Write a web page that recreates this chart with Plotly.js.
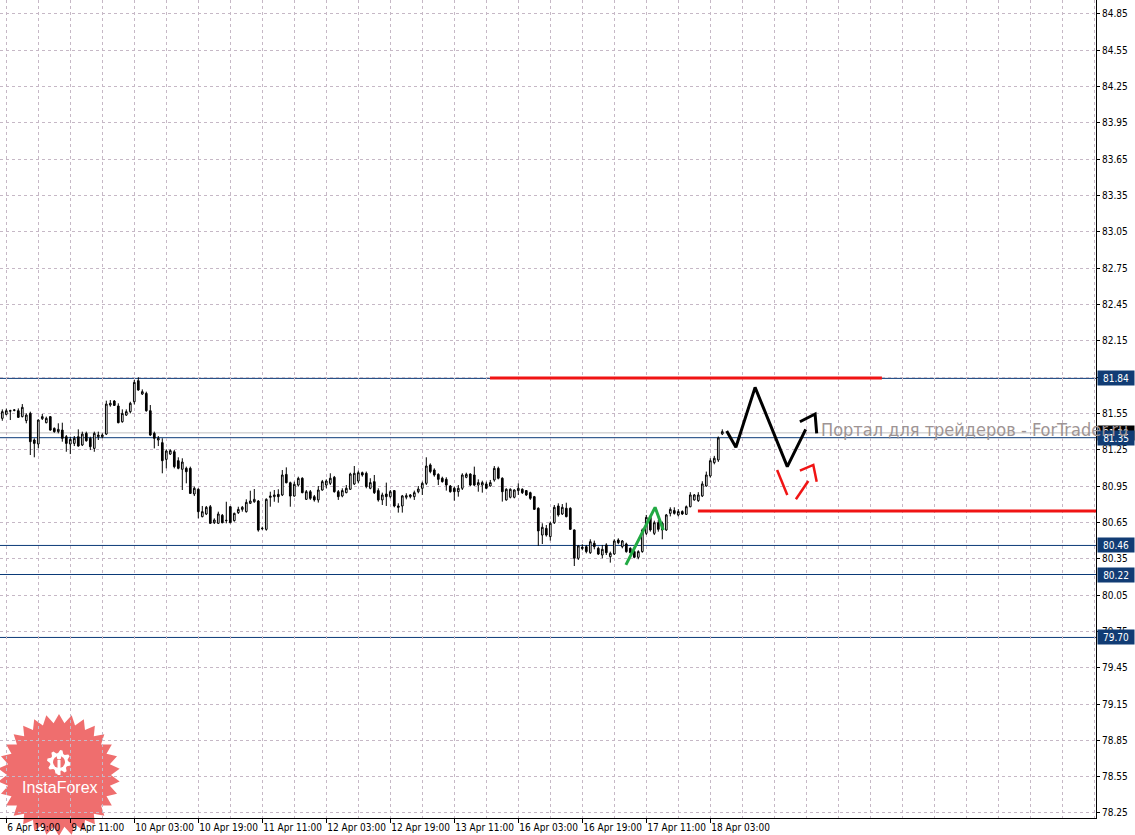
<!DOCTYPE html>
<html><head><meta charset="utf-8">
<script src="https://cdn.plot.ly/plotly-3.0.1.min.js"></script>
<style>html,body{margin:0;padding:0;background:#fff;}#chart{width:1135px;height:835px;}</style>
</head><body><div id="chart"></div>
<script>
// ---- data (bar index on x, price on y) ----
const tickBars = [1,17,33,49,65,81,97,113,129,145,161,177];
const tickLabels = ['6 Apr 19:00','9 Apr 11:00','10 Apr 03:00','10 Apr 19:00','11 Apr 11:00','12 Apr 03:00','12 Apr 19:00','13 Apr 11:00','16 Apr 03:00','16 Apr 19:00','17 Apr 11:00','18 Apr 03:00'];

const open = [
81.510,81.543,81.573,81.576,81.573,81.524,81.491,81.551,81.331,81.298,
81.507,81.474,81.524,81.427,81.400,81.413,81.358,81.298,81.303,81.358,
81.290,81.386,81.345,81.262,81.358,81.358,81.380,81.620,81.653,81.612,
81.482,81.537,81.565,81.647,81.821,81.711,81.716,81.573,81.386,81.331,
81.309,81.171,81.215,81.234,81.160,81.089,81.097,81.097,80.885,80.924,
80.698,80.720,80.780,80.648,80.643,80.709,80.665,80.780,80.665,80.731,
80.758,80.739,80.808,80.821,80.827,80.599,80.593,80.857,80.863,80.882,
80.877,81.047,80.978,80.868,80.959,
81.015,80.841,80.904,80.863,80.836,80.918,80.959,80.973,81.023,80.904,
80.869,80.896,80.924,80.968,80.992,81.061,81.056,80.932,80.987,80.913,
80.836,80.885,80.863,80.913,80.786,80.786,80.858,80.863,80.863,80.904,
80.932,80.973,81.125,81.083,81.047,81.015,81.006,80.951,80.932,80.904,
80.932,81.023,81.050,81.042,80.959,80.959,80.968,80.951,81.001,81.097,
81.015,80.836,80.858,80.858,80.913,80.924,80.913,80.896,80.863,80.767,
80.546,80.601,80.533,80.648,80.786,80.720,80.767,80.767,80.588,80.354,
80.445,80.450,80.400,80.478,80.436,80.381,80.464,80.367,80.390,80.505,
80.450,80.472,80.436,80.409,80.362,80.409,80.560,80.692,80.560,80.648,
80.643,80.588,80.725,80.748,80.712,80.740,80.717,80.780,80.836,80.830,
80.869,80.951,81.034,81.144,81.166,81.381];

const high = [
81.584,81.590,81.581,81.584,81.592,81.628,81.551,81.565,81.345,81.501,
81.546,81.524,81.529,81.435,81.469,81.474,81.372,81.358,81.364,81.419,
81.400,81.400,81.358,81.400,81.400,81.386,81.656,81.661,81.661,81.634,
81.584,81.584,81.647,81.827,81.849,81.749,81.730,81.620,81.400,81.364,
81.345,81.254,81.254,81.248,81.188,81.180,81.111,81.111,80.946,80.932,
80.786,80.786,80.794,80.684,80.739,80.720,80.821,80.786,80.731,80.780,
80.786,80.841,80.912,80.926,80.835,80.615,80.849,80.904,80.918,80.924,
81.083,81.105,80.987,80.987,81.028,
81.023,80.918,80.918,80.877,80.951,81.001,81.006,81.056,81.034,80.918,
80.932,80.959,81.061,81.116,81.078,81.070,81.070,81.015,81.042,80.932,
80.896,80.979,80.918,80.918,80.808,80.877,80.891,80.885,80.913,80.951,
80.987,81.188,81.138,81.097,81.056,81.028,81.023,80.959,80.946,80.959,
81.056,81.061,81.056,81.111,81.006,80.995,80.987,81.001,81.116,81.111,
81.023,80.932,80.932,80.924,80.973,80.932,80.918,80.904,80.869,80.775,
80.643,80.629,80.657,80.794,80.808,80.802,80.813,80.775,80.593,80.464,
80.470,80.464,80.511,80.500,80.450,80.464,80.478,80.409,80.511,80.519,
80.505,80.483,80.445,80.420,80.420,80.600,80.712,80.712,80.665,80.670,
80.657,80.720,80.775,80.775,80.760,80.750,80.790,80.900,80.885,80.900,
80.990,81.070,81.180,81.200,81.360,81.419];

const low = [
81.490,81.535,81.496,81.568,81.513,81.518,81.469,81.207,81.188,81.262,
81.496,81.469,81.408,81.391,81.386,81.317,81.234,81.215,81.281,81.276,
81.281,81.317,81.248,81.234,81.331,81.345,81.372,81.606,81.612,81.469,
81.474,81.529,81.551,81.625,81.738,81.703,81.565,81.364,81.262,81.281,
81.056,81.097,81.207,81.097,81.089,80.918,80.973,80.885,80.868,80.684,
80.692,80.711,80.637,80.637,80.637,80.643,80.643,80.643,80.657,80.720,
80.739,80.731,80.802,80.813,80.574,80.587,80.582,80.780,80.821,80.813,
80.868,80.973,80.780,80.863,80.946,
80.891,80.836,80.836,80.822,80.814,80.913,80.932,80.959,80.896,80.836,
80.858,80.891,80.918,80.959,80.973,81.028,80.932,80.924,80.885,80.822,
80.794,80.786,80.849,80.775,80.731,80.731,80.841,80.849,80.836,80.891,
80.877,80.959,81.056,81.028,80.959,80.979,80.913,80.896,80.830,80.863,
80.918,81.015,80.951,80.951,80.904,80.896,80.924,80.946,80.987,81.006,
80.822,80.830,80.849,80.849,80.877,80.885,80.869,80.836,80.753,80.456,
80.472,80.533,80.500,80.637,80.698,80.712,80.692,80.588,80.290,80.340,
80.420,80.395,80.390,80.428,80.381,80.354,80.381,80.318,80.381,80.470,
80.436,80.400,80.395,80.354,80.346,80.400,80.546,80.574,80.546,80.574,
80.511,80.580,80.700,80.715,80.700,80.712,80.712,80.775,80.830,80.820,
80.860,80.945,81.020,81.130,81.150,81.372];

const close = [
81.565,81.573,81.570,81.579,81.518,81.601,81.537,81.317,81.303,81.496,
81.524,81.510,81.413,81.400,81.419,81.345,81.303,81.336,81.345,81.281,
81.380,81.325,81.276,81.386,81.372,81.372,81.628,81.634,81.617,81.474,
81.551,81.565,81.634,81.807,81.744,81.730,81.573,81.372,81.345,81.345,
81.160,81.240,81.243,81.111,81.097,81.149,81.069,80.890,80.932,80.739,
80.739,80.775,80.643,80.670,80.720,80.648,80.667,80.648,80.725,80.758,
80.775,80.816,80.827,80.841,80.587,80.601,80.841,80.868,80.877,80.863,
81.042,80.978,80.868,80.965,81.014,
80.896,80.904,80.849,80.836,80.918,80.987,80.992,81.015,80.904,80.863,
80.913,80.932,81.050,81.056,81.061,81.042,80.946,80.979,80.896,80.836,
80.877,80.863,80.904,80.786,80.775,80.869,80.871,80.877,80.896,80.926,
80.973,81.116,81.070,81.042,81.006,80.987,80.959,80.904,80.904,80.932,
81.042,81.047,80.959,80.959,80.979,80.979,80.932,80.979,81.097,81.015,
80.904,80.924,80.924,80.918,80.932,80.896,80.877,80.849,80.758,80.580,
80.610,80.546,80.643,80.775,80.712,80.775,80.698,80.593,80.354,80.456,
80.436,80.409,80.491,80.450,80.389,80.428,80.400,80.395,80.497,80.483,
80.497,80.409,80.400,80.362,80.409,80.588,80.692,80.588,80.648,80.593,
80.588,80.712,80.758,80.725,80.740,80.720,80.780,80.877,80.877,80.877,
80.968,81.042,81.160,81.180,81.348,81.400];

const levelPrices = [81.84, 81.35, 80.46, 80.22, 79.70];
const levelLabels = ['81.84','81.35','80.46','80.22','79.70'];
const bidPrice = 81.39, bidLabel = '81.39';

// hand-drawn analysis lines (bar index, price)
const redTopX = [121.9, 219.9],  redTopY = [81.843, 81.843];
const redLowX = [173.9, 280],    redLowY = [80.745, 80.745];
const zigzagX = [181.1, 183.4, 188.2, 196.25, 200.85];
const zigzagY = [81.405, 81.271, 81.766, 81.111, 81.419];
const hookX = [199.4, 203.2, 203.6];
const hookY = [81.482, 81.546, 81.386];
const redAX = [193.7, 196.25], redAY = [81.083, 80.877];
const redBX = [198.4, 201.5],  redBY = [80.841, 80.992];
const redCX = [199.4, 202.75, 203.6], redCY = [81.078, 81.125, 80.987];
const greenX = [155.9, 163.2, 165.25], greenY = [80.299, 80.775, 80.588];

const watermark = 'Портал для трейдеров - ForTrader.ru';
const logoText = 'InstaForex';

// ---- build ----
const idx = open.map((_, i) => i);
const FONT = 'DejaVu Sans Condensed, DejaVu Sans, sans-serif';
const GRID = '#c6b8c6';
const FS = 10;

function line(x, y, color, w) {
  return {type:'scatter', mode:'lines', x:x, y:y, line:{color:color, width:w}, hoverinfo:'skip', showlegend:false};
}

const traces = [
  {type:'candlestick', x:idx, open:open, high:high, low:low, close:close,
   increasing:{line:{color:'#000', width:1}, fillcolor:'#ffffff'},
   decreasing:{line:{color:'#000', width:1}, fillcolor:'#000000'},
   whiskerwidth:0, hoverinfo:'skip', showlegend:false},
  line(redTopX, redTopY, '#f01414', 3),
  line(redLowX, redLowY, '#f01414', 3),
  line(greenX, greenY, '#22aa44', 3),
  line(zigzagX, zigzagY, '#000000', 3),
  line(hookX, hookY, '#000000', 3),
  line(redAX, redAY, '#f01414', 2.5),
  line(redBX, redBY, '#f01414', 2.5),
  line(redCX, redCY, '#f01414', 2.5)
];

// pixel helpers for decorative logo (plot area 1096 x 818)
const PW = 1096, PH = 818;
const px = x => (x / PW).toFixed(5);
const py = y => (1 - y / PH).toFixed(5);
const path = pts => 'M' + pts.map(p => px(p[0]) + ',' + py(p[1])).join(' L') + ' Z';

const star = [];
{ const N = 30, cx = 59, cy = 775, R = 61, r = 52;
  for (let k = 0; k < 2 * N; k++) {
    const a = Math.PI * k / N - Math.PI / 2, rad = (k % 2) ? r : R;
    star.push([cx + rad * Math.cos(a), cy + rad * Math.sin(a)]);
  } }
const gear = [];
{ const T = 8, cx = 59, cy = 762;
  for (let k = 0; k < T * 4; k++) {
    const a = 2 * Math.PI * (k + 0.5) / (T * 4), rad = (Math.floor(k / 2) % 2 === 0) ? 12 : 9;
    gear.push([cx + rad * Math.cos(a), cy + rad * Math.sin(a)]);
  } }

const shapes = [
  {type:'path', xref:'paper', yref:'paper', path:path(star), fillcolor:'rgba(236,82,82,0.84)', line:{width:0}, layer:'below'},
  {type:'path', xref:'paper', yref:'paper', path:path(gear), fillcolor:'#ffffff', line:{width:0}, layer:'below'},
  {type:'circle', xref:'paper', yref:'paper', x0:px(53), x1:px(65), y0:py(768), y1:py(756), fillcolor:'#ef6e6e', line:{width:0}, layer:'below'},
  {type:'circle', xref:'paper', yref:'paper', x0:px(56.8), x1:px(61.2), y0:py(759.5), y1:py(755), fillcolor:'#ffffff', line:{width:0}, layer:'below'},
  {type:'path', xref:'paper', yref:'paper', path:path([[57.5,760],[60.5,760],[60.5,775],[57.5,775]]), fillcolor:'#ffffff', line:{width:0}, layer:'below'},
  {type:'line', xref:'paper', yref:'y', x0:0, x1:1, y0:bidPrice, y1:bidPrice, line:{color:'#c0c0c0', width:1}, layer:'below'}
];
levelPrices.forEach(p => shapes.push({type:'line', xref:'paper', yref:'y', x0:0, x1:1, y0:p, y1:p,
  line:{color:'#0b3a78', width:1}, layer:'below'}));

const annotations = [];
annotations.push({xref:'paper', x:1, xanchor:'left', xshift:1, yref:'y', y:bidPrice, yanchor:'middle',
  text:bidLabel, showarrow:false, bgcolor:'#000', font:{family:FONT, size:FS, color:'#fff'},
  width:34, height:12, borderpad:1, align:'center'});
levelPrices.forEach((p, k) => annotations.push({xref:'paper', x:1, xanchor:'left', xshift:1, yref:'y', y:p, yanchor:'middle',
  text:levelLabels[k], showarrow:false, bgcolor:'#113c74', font:{family:FONT, size:FS, color:'#fff'},
  width:34, height:12, borderpad:1, align:'center'}));
annotations.push({xref:'paper', x:819 / PW, xanchor:'left', yref:'y', y:81.419, yanchor:'middle',
  text:watermark, showarrow:false, font:{family:'DejaVu Sans Condensed, Liberation Sans, sans-serif', size:18, color:'#9e9494'}});
annotations.push({xref:'paper', x:59.5 / PW, xanchor:'center', yref:'paper', y:1 - 787 / PH, yanchor:'middle',
  text:logoText, showarrow:false, font:{family:'Liberation Sans, Arial, sans-serif', size:16, color:'#ffffff'}});

const layout = {
  width:1135, height:835,
  margin:{l:0, r:39, t:0, b:17, pad:0},
  paper_bgcolor:'#ffffff', plot_bgcolor:'rgba(0,0,0,0)',
  showlegend:false, hovermode:false, dragmode:false, boxgap:0.4,
  xaxis:{range:[-0.575, 273.425], tickmode:'array', tickvals:tickBars, ticktext:tickLabels,
    tickangle:0, ticklabelposition:'outside right', ticks:'outside', ticklen:4, tickcolor:'#000', tickwidth:1,
    ticklabelstandoff:0, tickfont:{family:FONT, size:FS, color:'#000'},
    showgrid:true, gridcolor:GRID, griddash:'3px,3px', gridwidth:1,
    minor:{tickmode:'linear', tick0:1, dtick:8, showgrid:true, gridcolor:GRID, griddash:'3px,3px', ticks:''},
    showline:true, linecolor:'#000', linewidth:1, zeroline:false, rangeslider:{visible:false}, fixedrange:true},
  yaxis:{side:'right', range:[78.2086, 84.9656], tickmode:'linear', tick0:78.25, dtick:0.3, tickformat:'.2f',
    ticks:'outside', ticklen:3, tickcolor:'#000', tickfont:{family:FONT, size:FS, color:'#000'},
    showgrid:true, gridcolor:GRID, griddash:'3px,3px', gridwidth:1,
    showline:true, linecolor:'#000', linewidth:1, zeroline:false, fixedrange:true},
  shapes:shapes, annotations:annotations
};

Plotly.newPlot('chart', traces, layout, {staticPlot:true, displayModeBar:false});
</script>
</body></html>
